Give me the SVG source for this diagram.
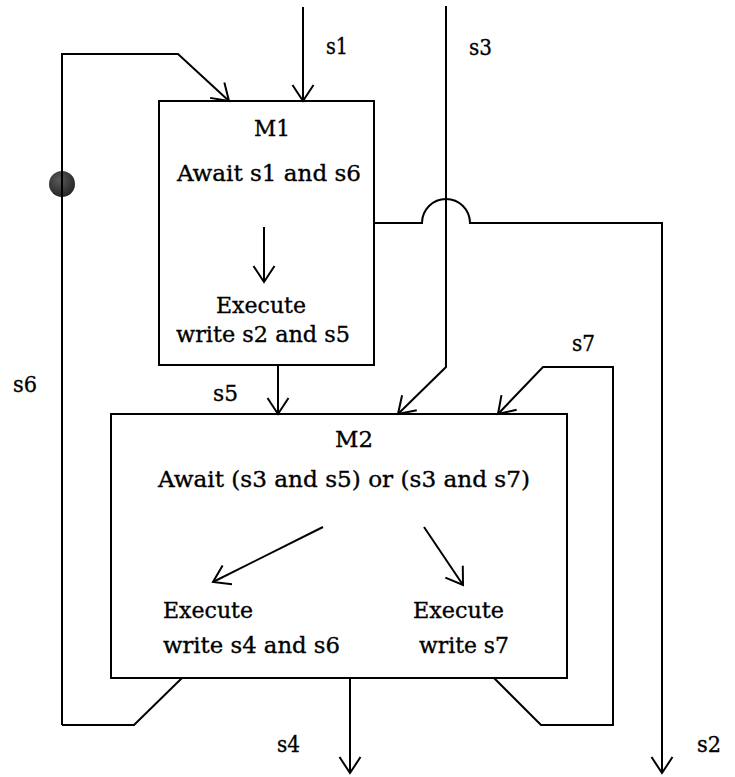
<svg xmlns="http://www.w3.org/2000/svg" width="735" height="777" viewBox="0 0 735 777">
<style>
.ln{fill:none;stroke:#000;stroke-width:2}
.box{fill:#fff;stroke:#000;stroke-width:2}
text{font-family:"DejaVu Serif","Liberation Serif",serif;font-size:22px;fill:#000;stroke:#000;stroke-width:0.35}
</style>
<defs>
<marker id="ah" markerUnits="userSpaceOnUse" markerWidth="24" markerHeight="24" viewBox="-18 -12 20 24" refX="0" refY="0" orient="auto">
<path d="M-16,-10.5 L0,0 L-16,10.5" fill="none" stroke="#000" stroke-width="2"/>
</marker>
<radialGradient id="ball" cx="0.4" cy="0.35" r="0.7">
<stop offset="0" stop-color="#5a5a5a"/>
<stop offset="1" stop-color="#222"/>
</radialGradient>
</defs>
<rect width="735" height="777" fill="#fff"/>
<g id="M1">
<rect class="box" x="159" y="101" width="215" height="264"/>
<text x="254" y="136" textLength="36" lengthAdjust="spacingAndGlyphs">M1</text>
<text x="177" y="181" textLength="184" lengthAdjust="spacingAndGlyphs">Await s1 and s6</text>
<line class="ln" x1="264" y1="227" x2="264" y2="282" marker-end="url(#ah)"/>
<text x="216" y="313" textLength="90" lengthAdjust="spacingAndGlyphs">Execute</text>
<text x="176" y="342" textLength="174" lengthAdjust="spacingAndGlyphs">write s2 and s5</text>
</g>
<g id="M2">
<rect class="box" x="111" y="414" width="456" height="264"/>
<text x="335" y="447" textLength="38" lengthAdjust="spacingAndGlyphs">M2</text>
<text x="158" y="487" textLength="372" lengthAdjust="spacingAndGlyphs">Await (s3 and s5) or (s3 and s7)</text>
<line class="ln" x1="323" y1="527" x2="213" y2="582" marker-end="url(#ah)"/>
<line class="ln" x1="424" y1="527" x2="463" y2="585" marker-end="url(#ah)"/>
<text x="163" y="618" textLength="90" lengthAdjust="spacingAndGlyphs">Execute</text>
<text x="163" y="653" textLength="177" lengthAdjust="spacingAndGlyphs">write s4 and s6</text>
<text x="413" y="618" textLength="91" lengthAdjust="spacingAndGlyphs">Execute</text>
<text x="419" y="653" textLength="90" lengthAdjust="spacingAndGlyphs">write s7</text>
</g>
<g id="dot">
<circle cx="62" cy="184" r="13" fill="url(#ball)"/>
</g>
<g id="connectors">
<line class="ln" x1="303" y1="7" x2="303" y2="101" marker-end="url(#ah)"/>
<path class="ln" d="M62,725 L62,54 L178,54 L229,101" marker-end="url(#ah)"/>
<path class="ln" d="M182,678 L134,725 L62,725"/>
<path class="ln" d="M446,6 L446,367 L398,414" marker-end="url(#ah)"/>
<path class="ln" d="M374,223 L422,223 A24,24 0 0 1 470,223 L662,223 L662,773" marker-end="url(#ah)"/>
<line class="ln" x1="278" y1="365" x2="278" y2="414" marker-end="url(#ah)"/>
<path class="ln" d="M494,678 L541,725 L613,725 L613,367 L543,367 L498,414" marker-end="url(#ah)"/>
<line class="ln" x1="350" y1="678" x2="350" y2="773" marker-end="url(#ah)"/>
</g>
<g id="labels">
<text x="326" y="54" textLength="22" lengthAdjust="spacingAndGlyphs">s1</text>
<text x="469" y="55" textLength="23" lengthAdjust="spacingAndGlyphs">s3</text>
<text x="13" y="392" textLength="24" lengthAdjust="spacingAndGlyphs">s6</text>
<text x="213" y="401" textLength="25" lengthAdjust="spacingAndGlyphs">s5</text>
<text x="572" y="351" textLength="23" lengthAdjust="spacingAndGlyphs">s7</text>
<text x="277" y="752" textLength="23" lengthAdjust="spacingAndGlyphs">s4</text>
<text x="697" y="752" textLength="24" lengthAdjust="spacingAndGlyphs">s2</text>
</g>
</svg>
